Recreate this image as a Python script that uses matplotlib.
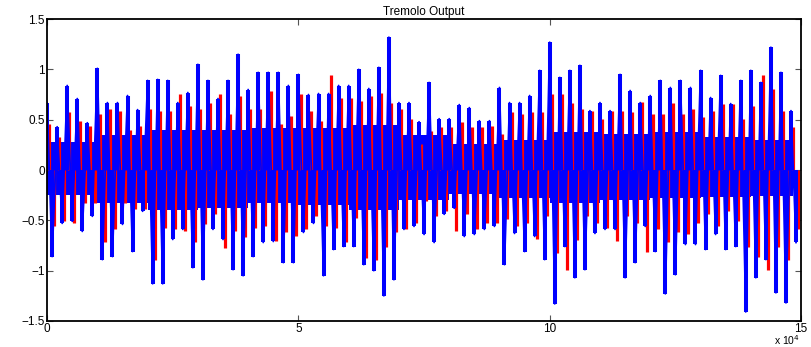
import numpy as np
import matplotlib
matplotlib.use('Agg')
from matplotlib import pyplot as plt

# envelope of the two signals, one value per 2000-sample block
block = 2000
blue_top = [0.67, 0.43, 0.84, 0.71, 0.47, 1.01, 0.67, 0.67, 0.74, 0.60,
            0.89, 0.90, 0.89, 0.67, 0.77, 1.05, 0.89, 0.71, 0.89, 1.15,
            0.80, 0.97, 0.97, 0.97, 0.84, 0.95, 0.75, 0.76, 0.76, 0.84,
            0.84, 1.00, 0.81, 1.02, 1.32, 0.67, 0.67, 0.48, 0.87, 0.51,
            0.51, 0.65, 0.62, 0.49, 0.49, 0.82, 0.67, 0.67, 0.74, 0.99,
            1.27, 0.92, 0.99, 1.04, 0.59, 0.67, 0.59, 0.95, 0.79, 0.67,
            0.74, 0.89, 0.82, 0.89, 0.82, 0.99, 0.72, 0.94, 0.66, 0.89,
            0.99, 0.87, 1.22, 0.97, 0.59]
blue_bot = [-0.86, -0.53, -0.51, -0.61, -0.46, -0.89, -0.86, -0.54, -0.81, -0.41,
            -1.13, -1.13, -0.69, -0.59, -0.97, -1.09, -0.59, -0.69, -0.99, -1.05,
            -0.86, -0.72, -0.71, -0.92, -0.92, -0.62, -0.53, -1.05, -0.79, -0.76,
            -0.76, -0.94, -1.00, -1.25, -1.09, -0.59, -0.56, -0.64, -0.72, -0.44,
            -0.38, -0.66, -0.64, -0.59, -0.56, -0.94, -0.63, -0.81, -0.66, -0.89,
            -1.33, -0.76, -1.07, -0.99, -0.63, -0.59, -0.59, -1.07, -0.92, -0.56,
            -0.81, -1.23, -1.04, -0.74, -0.74, -0.79, -0.64, -0.79, -0.76, -1.41,
            -1.07, -0.89, -1.22, -1.32, -0.72]
red_top = [0.46, 0.33, 0.58, 0.49, 0.44, 0.56, 0.61, 0.59, 0.40, 0.44,
           0.61, 0.59, 0.59, 0.76, 0.64, 0.61, 0.67, 0.76, 0.56, 0.74,
           0.61, 0.61, 0.79, 0.46, 0.54, 0.76, 0.59, 0.49, 0.94, 0.72,
           0.72, 0.69, 0.74, 0.77, 0.67, 0.61, 0.51, 0.26, 0.39, 0.43,
           0.43, 0.48, 0.43, 0.43, 0.44, 0.36, 0.58, 0.56, 0.58, 0.58,
           0.76, 0.76, 0.67, 0.61, 0.59, 0.51, 0.59, 0.59, 0.58, 0.68,
           0.56, 0.56, 0.67, 0.56, 0.61, 0.53, 0.59, 0.66, 0.66, 0.51,
           0.64, 0.94, 0.81, 0.59, 0.43]
red_bot = [-0.56, -0.51, -0.53, -0.33, -0.33, -0.72, -0.59, -0.33, -0.39, -0.39,
           -0.89, -0.58, -0.59, -0.61, -0.72, -0.54, -0.44, -0.77, -0.61, -0.67,
           -0.58, -0.56, -0.71, -0.62, -0.66, -0.59, -0.46, -0.56, -0.58, -0.72,
           -0.48, -0.87, -0.89, -0.76, -0.62, -0.59, -0.53, -0.31, -0.46, -0.41,
           -0.61, -0.44, -0.59, -0.53, -0.53, -0.49, -0.56, -0.53, -0.69, -0.46,
           -0.82, -0.99, -0.70, -0.46, -0.53, -0.58, -0.71, -0.46, -0.53, -0.81,
           -0.59, -0.72, -0.62, -0.64, -0.53, -0.44, -0.56, -0.41, -0.51, -0.76,
           -0.86, -0.99, -0.76, -0.89, -0.59]

# solid band around zero, one value per 10000 samples
mass_block = 10000
mass_top = [0.28, 0.35, 0.40, 0.40, 0.42, 0.42, 0.45, 0.35, 0.26, 0.30,
            0.38, 0.36, 0.38, 0.33, 0.30]
mass_bot = [-0.25, -0.33, -0.40, -0.38, -0.33, -0.35, -0.40, -0.30, -0.24, -0.28,
            -0.33, -0.30, -0.28, -0.27, -0.26]
end_sample = 148500

plt.rcParams['font.family'] = ['Liberation Sans', 'DejaVu Sans']

fig = plt.figure(figsize=(8.12, 3.47), dpi=100)
ax = fig.add_axes([0.058, 0.075, 0.9285, 0.87])

n = len(blue_top)
x0 = np.arange(n) * block

# red (input) behind, blue (output) on top
ax.vlines(x0 + 450, 0, red_top, color='#ff0000', lw=2.3)
ax.vlines(x0 + 1450, red_bot, 0, color='#ff0000', lw=2.3)

xm = np.append(np.arange(len(mass_top)) * mass_block, end_sample)
ax.stairs(mass_top, xm, baseline=mass_bot, fill=True, color='#0000ff', lw=0)

# thin trace joining the peaks, like the underlying waveform
xt = np.ravel(np.column_stack([x0, x0 + 1000]))
yt = np.ravel(np.column_stack([blue_top, blue_bot]))
ax.plot(xt, yt, color='#0000ff', lw=1.3)

ax.vlines(x0, 0, blue_top, color='#0000ff', lw=2.9)
ax.vlines(x0 + 1000, blue_bot, 0, color='#0000ff', lw=2.9)

ax.set_xlim(0, 150000)
ax.set_ylim(-1.5, 1.5)
ax.set_xticks([0, 50000, 100000, 150000])
ax.set_xticklabels(['0', '5', '10', '15'])
ax.set_yticks([-1.5, -1, -0.5, 0, 0.5, 1, 1.5])
ax.set_yticklabels(['\u22121.5', '\u22121', '\u22120.5', '0', '0.5', '1', '1.5'])
ax.tick_params(direction='in', top=True, right=True, labelsize=8.5,
               length=4, width=0.8, pad=1.5, color='#555555')
for s in ax.spines.values():
    s.set_linewidth(1.3)
ax.set_title('Tremolo Output', fontsize=8.5, pad=3)
fig.text(0.985, 0.0, r'x 10$^4$', ha='right', va='bottom', fontsize=7.5)

fig.savefig('out.png', dpi=100)
